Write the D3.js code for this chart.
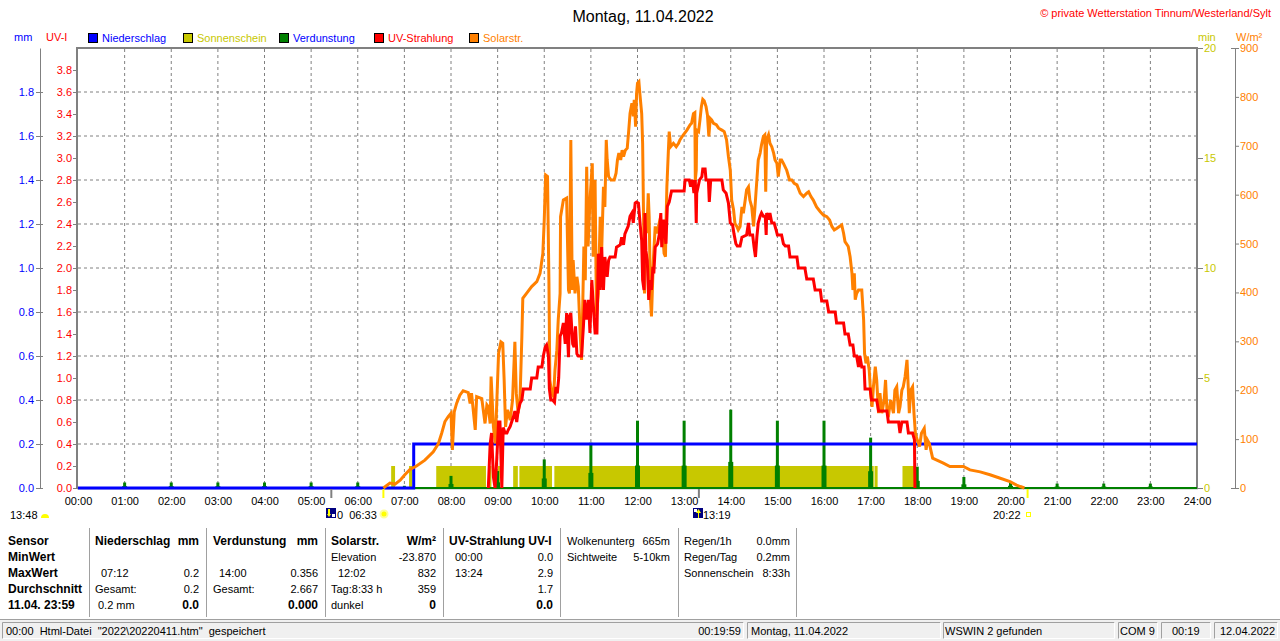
<!DOCTYPE html>
<html>
<head>
<meta charset="utf-8">
<script src="https://cdn.jsdelivr.net/npm/d3@7"></script>
<style>
body{margin:0;background:#fff;}
svg{display:block;font-family:"Liberation Sans",Arial,sans-serif;}
</style>
</head>
<body>
<script>

// ---- data ----

var hourTicks = d3.range(0, 25);
var uvTicks = d3.range(0, 20).map(function(i){ return i * 0.2; });
var mmTicks = d3.range(0, 10).map(function(i){ return i * 0.2; });
var minTicks = [0, 5, 10, 15, 20];
var wTicks = d3.range(0, 1000, 100);

// Niederschlag (Summe, mm)
var rainTimes = ["00:00", "07:12", "24:00"];
var rainMM = [0, 0.2, 0.2];

// Sonnenschein (min), Intervalle mit Sonne
var sunIntervals = [["06:43","06:48"],["07:06","07:10"],["07:41","08:45"],["08:49","08:52"],
  ["09:00","09:03"],["09:20","09:26"],["09:28","10:10"],["10:13","17:04"],["17:05","17:09"],["17:41","17:57"]];
var sunMin = 1;

// Verdunstung (mm) zur vollen Stunde
var evapHours = d3.range(1, 24);
var evapMM = [0.025,0.025,0.025,0.025,0.025,0.025,0.01,0.055,0.077,0.13,0.206,0.306,0.306,
  0.356,0.306,0.306,0.229,0.097,0.05,0.03,0.02,0.02,0.02];

// Solarstrahlung (W/m²) [Stunde, Wert]
var solar = [[6.55,0],[6.69,10],[6.80,8],[6.91,16],[7.01,27],[7.12,38],[7.26,45],[7.44,57],[7.62,74],
  [7.73,91],[7.80,112],[7.87,136],[7.94,146],[8.00,153],[8.03,78],[8.07,156],[8.12,173],[8.19,190],
  [8.26,199],[8.37,195],[8.41,173],[8.44,194],[8.52,119],[8.55,187],[8.66,183],[8.73,132],[8.77,170],
  [8.80,166],[8.84,132],[8.86,228],[8.91,125],[8.95,91],[9.02,275],[9.07,299],[9.11,296],[9.14,221],
  [9.17,125],[9.21,160],[9.27,139],[9.32,180],[9.37,299],[9.40,194],[9.44,153],[9.48,180],[9.52,310],
  [9.54,388],[9.62,398],[9.73,412],[9.84,422],[9.91,439],[9.97,480],[10.00,548],[10.03,640],[10.07,637],
  [10.10,425],[10.12,221],[10.16,194],[10.20,187],[10.23,241],[10.27,282],[10.30,344],[10.34,398],
  [10.35,555],[10.41,589],[10.48,593],[10.52,405],[10.54,398],[10.57,712],[10.60,405],[10.62,466],
  [10.66,398],[10.70,432],[10.73,412],[10.77,316],[10.80,262],[10.82,344],[10.85,494],[10.88,425],
  [10.91,657],[10.94,494],[10.97,562],[10.99,603],[11.03,664],[11.05,473],[11.09,630],[11.12,351],
  [11.16,398],[11.20,555],[11.23,480],[11.27,616],[11.30,575],[11.33,712],[11.35,671],[11.38,637],
  [11.43,630],[11.50,630],[11.54,644],[11.57,671],[11.60,685],[11.64,671],[11.67,691],[11.70,678],
  [11.74,691],[11.78,695],[11.81,729],[11.84,766],[11.88,787],[11.91,760],[11.93,794],[11.96,739],
  [11.98,807],[12.00,828],[12.03,831],[12.05,807],[12.09,766],[12.11,705],[12.13,555],[12.15,398],
  [12.18,555],[12.20,521],[12.23,603],[12.25,555],[12.28,385],[12.30,351],[12.34,466],[12.38,535],
  [12.41,521],[12.45,535],[12.48,548],[12.53,535],[12.57,480],[12.60,473],[12.61,535],[12.63,616],
  [12.66,685],[12.68,729],[12.71,698],[12.77,705],[12.83,698],[12.88,705],[12.91,712],[12.98,722],
  [13.06,732],[13.13,743],[13.16,746],[13.20,766],[13.23,768],[13.24,630],[13.26,650],[13.27,732],
  [13.31,729],[13.34,753],[13.37,780],[13.40,795],[13.43,792],[13.47,780],[13.50,763],[13.53,719],
  [13.56,756],[13.59,753],[13.63,746],[13.69,743],[13.74,736],[13.81,732],[13.86,729],[13.91,712],
  [13.95,678],[13.99,650],[14.02,589],[14.06,569],[14.09,541],[14.13,535],[14.16,528],[14.20,535],
  [14.24,575],[14.27,562],[14.31,589],[14.34,610],[14.38,616],[14.41,589],[14.45,575],[14.49,535],
  [14.52,575],[14.56,630],[14.59,671],[14.63,685],[14.66,702],[14.70,719],[14.73,722],[14.75,606],
  [14.77,712],[14.81,722],[14.84,705],[14.88,698],[14.92,685],[14.95,671],[14.99,664],[15.02,637],
  [15.06,671],[15.09,671],[15.13,664],[15.20,650],[15.26,630],[15.31,630],[15.36,623],[15.42,620],
  [15.49,603],[15.56,596],[15.63,603],[15.67,606],[15.72,596],[15.77,589],[15.84,575],[15.92,565],
  [15.99,558],[16.06,555],[16.12,548],[16.17,535],[16.22,528],[16.27,531],[16.33,535],[16.38,538],
  [16.42,521],[16.45,504],[16.52,494],[16.56,473],[16.60,439],[16.62,405],[16.65,439],[16.67,385],
  [16.70,398],[16.74,405],[16.81,405],[16.85,344],[16.87,275],[16.90,255],[16.93,269],[16.97,241],
  [17.00,194],[17.03,166],[17.06,207],[17.10,248],[17.13,221],[17.17,153],[17.20,194],[17.24,153],
  [17.29,180],[17.32,221],[17.35,160],[17.39,153],[17.43,180],[17.49,153],[17.52,200],[17.56,207],
  [17.60,153],[17.63,166],[17.67,200],[17.70,207],[17.74,228],[17.78,262],[17.80,221],[17.83,153],
  [17.86,200],[17.90,207],[17.93,153],[17.96,112],[18.00,98],[18.05,85],[18.09,112],[18.15,122],
  [18.19,78],[18.22,98],[18.26,91],[18.29,78],[18.33,61],[18.42,57],[18.56,51],[18.70,44],[18.85,44],
  [18.99,44],[19.13,37],[19.35,33],[19.56,27],[19.78,20],[19.99,13],[20.13,6],[20.21,3],[20.30,0]];

// UV-Strahlung (UV-I) [Stunde, Wert]
var uv = [[8.80,0],[8.84,0.4],[8.87,0.5],[8.91,0.1],[8.945,0],[8.98,0.25],[9.02,0.6],[9.05,0.6],[9.09,0],
  [9.12,0.55],[9.16,0.5],[9.20,0.5],[9.23,0.53],[9.27,0.56],[9.30,0.6],[9.34,0.65],[9.37,0.7],[9.41,0.6],
  [9.44,0.7],[9.48,0.77],[9.52,0.8],[9.55,0.9],[9.70,0.9],[9.73,1.0],[9.84,1.0],[9.87,1.1],[9.95,1.1],
  [9.98,1.2],[10.02,1.28],[10.05,1.3],[10.09,1.2],[10.11,0.9],[10.14,0.8],[10.18,0.8],[10.22,0.78],
  [10.25,0.92],[10.28,0.86],[10.31,1.0],[10.34,1.38],[10.37,1.41],[10.41,1.5],[10.45,1.31],[10.48,1.59],
  [10.52,1.19],[10.54,1.56],[10.57,1.59],[10.61,1.31],[10.64,1.28],[10.67,1.47],[10.70,1.22],[10.73,1.2],
  [10.80,1.2],[10.84,1.47],[10.87,1.71],[10.91,1.53],[10.95,1.71],[10.98,1.41],[11.02,1.89],[11.05,1.68],
  [11.09,1.41],[11.13,1.41],[11.16,2.13],[11.20,1.8],[11.23,2.19],[11.27,1.8],[11.30,2.1],[11.35,1.92],
  [11.38,2.07],[11.41,2.1],[11.52,2.1],[11.55,2.19],[11.63,2.21],[11.66,2.28],[11.70,2.21],[11.73,2.31],
  [11.80,2.38],[11.84,2.47],[11.88,2.5],[11.91,2.41],[11.95,2.59],[11.98,2.6],[12.02,2.59],[12.06,2.38],
  [12.09,2.25],[12.11,1.89],[12.14,1.8],[12.16,2.5],[12.18,2.16],[12.21,2.07],[12.24,1.71],[12.27,1.89],
  [12.30,1.8],[12.33,2.01],[12.35,1.95],[12.38,2.19],[12.43,2.22],[12.47,2.31],[12.50,2.5],[12.52,2.19],
  [12.56,2.44],[12.59,2.31],[12.61,2.22],[12.64,2.56],[12.68,2.6],[12.73,2.7],[13.00,2.7],[13.02,2.8],
  [13.11,2.8],[13.14,2.74],[13.18,2.8],[13.21,2.68],[13.24,2.8],[13.26,2.41],[13.27,2.68],[13.30,2.74],
  [13.33,2.8],[13.38,2.83],[13.40,2.9],[13.45,2.9],[13.47,2.8],[13.52,2.8],[13.54,2.6],[13.57,2.8],
  [13.81,2.8],[13.84,2.71],[13.90,2.68],[13.95,2.59],[13.99,2.41],[14.04,2.39],[14.07,2.31],[14.11,2.22],
  [14.14,2.2],[14.20,2.2],[14.24,2.28],[14.34,2.3],[14.38,2.41],[14.41,2.3],[14.47,2.3],[14.50,2.19],
  [14.53,2.1],[14.56,2.28],[14.59,2.41],[14.63,2.47],[14.66,2.5],[14.70,2.47],[14.74,2.47],[14.76,2.3],
  [14.77,2.5],[14.81,2.44],[14.84,2.5],[14.88,2.41],[14.93,2.41],[14.97,2.35],[15.00,2.3],[15.09,2.3],
  [15.13,2.22],[15.17,2.2],[15.24,2.2],[15.27,2.1],[15.42,2.1],[15.45,2.0],[15.59,2.0],[15.63,1.9],
  [15.77,1.9],[15.81,1.8],[15.92,1.8],[15.95,1.7],[16.06,1.7],[16.10,1.6],[16.24,1.6],[16.27,1.5],
  [16.42,1.5],[16.45,1.4],[16.52,1.4],[16.56,1.3],[16.62,1.3],[16.65,1.2],[16.70,1.2],[16.74,1.1],
  [16.77,1.2],[16.81,1.1],[16.86,1.1],[16.88,0.9],[16.99,0.9],[17.02,0.8],[17.13,0.8],[17.17,0.7],
  [17.35,0.7],[17.38,0.6],[17.60,0.6],[17.63,0.5],[17.67,0.6],[17.78,0.6],[17.81,0.5],[17.90,0.5],
  [17.94,0.44],[17.95,0]];

// Auf-/Untergang Markierungen unter der Zeitachse
var sunRise = "06:33", sunSet = "20:22";
var moonTicks = ["05:26", "13:19"];

var legend = [
  {name:"Niederschlag", fill:"#0000ff", text:"#0000ff"},
  {name:"Sonnenschein", fill:"#c8c800", text:"#c8c800"},
  {name:"Verdunstung", fill:"#008000", text:"#0000ff"},
  {name:"UV-Strahlung", fill:"#ff0000", text:"#ff0000"},
  {name:"Solarstr.", fill:"#ff8000", text:"#ff8000"}
];

function hm(s){ var p = s.split(":"); return +p[0] + (+p[1]) / 60; }

// ---- drawing ----

var svg = d3.select("body").append("svg").attr("width", 1280).attr("height", 641)
            .style("font-size", "11px");

var x = d3.scaleLinear().domain([0, 24]).range([78, 1197]);
var yUV = d3.scaleLinear().domain([0, 4]).range([488, 48]);
var yMM = d3.scaleLinear().domain([0, 2]).range([488, 48]);
var yMin = d3.scaleLinear().domain([0, 20]).range([488, 48]);
var yW = d3.scaleLinear().domain([0, 900]).range([488, 48]);

function txt(px, py, s, col, opt){
  opt = opt || {};
  return svg.append("text").attr("x", px).attr("y", py).text(s)
     .attr("fill", col || "#000")
     .attr("text-anchor", opt.anchor || "start")
     .style("font-size", (opt.size || 11) + "px")
     .style("font-weight", opt.bold ? "bold" : "normal")
     .style("white-space", "pre");
}

// title
txt(643, 22, "Montag, 11.04.2022", "#000", {anchor:"middle", size:16});
txt(1271, 17, "\u00a9 private Wetterstation Tinnum/Westerland/Sylt", "#ff0000", {anchor:"end"});

// units
txt(14, 41, "mm", "#0000ff");
txt(46, 41, "UV-I", "#ff0000");
txt(1198, 41, "min", "#c8c800");
txt(1236, 41, "W/m\u00b2", "#ff8000");

// legend
var lg = svg.append("g");
var lgX = [88, 183, 279, 374, 469];
legend.forEach(function(d, i){
  lg.append("rect").attr("x", lgX[i] + 0.5).attr("y", 33.5).attr("width", 9).attr("height", 9)
    .attr("fill", d.fill).attr("stroke", "#000");
  lg.append("text").attr("x", lgX[i] + 14).attr("y", 42).attr("fill", d.text).text(d.name);
});

// grid
var grid = svg.append("g").attr("stroke", "#808080").attr("stroke-dasharray", "3,3");
grid.selectAll(".gv").data(hourTicks.slice(1, 24)).enter().append("line")
    .attr("x1", function(d){ return x(d); }).attr("x2", function(d){ return x(d); })
    .attr("y1", 49).attr("y2", 488);
grid.selectAll(".gh").data(uvTicks.filter(function(d, i){ return i > 0 && i % 2 == 0; })).enter().append("line")
    .attr("x1", 78).attr("x2", 1197)
    .attr("y1", function(d){ return yUV(d); }).attr("y2", function(d){ return yUV(d); });

// frame
svg.append("path").attr("d", "M77,489V48H1197V489").attr("fill", "none")
   .attr("stroke", "#808080").attr("stroke-width", 2);
svg.append("line").attr("x1", 77).attr("x2", 1198).attr("y1", 488.5).attr("y2", 488.5)
   .attr("stroke", "#808080").attr("stroke-width", 1.5);

// axes
function styleAxis(g, col){
  g.attr("font-family", null).attr("font-size", null);
  g.selectAll("line").attr("stroke", "#808080");
  g.select(".domain").attr("stroke", "#808080");
  g.selectAll("text").attr("fill", col).style("font-size", "11px");
}

var uvAxis = svg.append("g").attr("transform", "translate(77,0)")
   .call(d3.axisLeft(yUV).tickValues(uvTicks).tickSize(4).tickPadding(1).tickFormat(d3.format(".1f")));
uvAxis.select(".domain").remove();
styleAxis(uvAxis, "#ff0000");

var mmAxis = svg.append("g").attr("transform", "translate(40,0)")
   .call(d3.axisLeft(yMM).tickValues(mmTicks).tickSize(4).tickSizeOuter(0).tickPadding(2).tickFormat(d3.format(".1f")));
mmAxis.selectAll(".tick line").attr("x1", 3);
styleAxis(mmAxis, "#0000ff");

var minAxis = svg.append("g").attr("transform", "translate(1198,0)")
   .call(d3.axisRight(yMin).tickValues(minTicks).tickSize(5).tickPadding(1));
minAxis.select(".domain").remove();
styleAxis(minAxis, "#c8c800");

var wAxis = svg.append("g").attr("transform", "translate(1235,0)")
   .call(d3.axisRight(yW).tickValues(wTicks).tickSize(4).tickSizeOuter(0).tickPadding(1));
wAxis.selectAll(".tick line").attr("x1", function(d){ return (d == 0 || d == 900) ? -4 : 0; });
styleAxis(wAxis, "#ff8000");

var tAxis = svg.append("g").attr("transform", "translate(0,488)")
   .call(d3.axisBottom(x).tickValues(hourTicks).tickSize(0).tickPadding(9)
   .tickFormat(function(d){ return (d < 10 ? "0" : "") + d + ":00"; }));
tAxis.select(".domain").remove();
styleAxis(tAxis, "#000");

// sunshine bars
svg.append("g").selectAll("rect").data(sunIntervals).enter().append("rect")
   .attr("x", function(d){ return x(hm(d[0])); })
   .attr("width", function(d){ return x(hm(d[1])) - x(hm(d[0])); })
   .attr("y", yMin(sunMin)).attr("height", yMin(0) - yMin(sunMin))
   .attr("fill", "#c8c800");

// evaporation
svg.append("line").attr("x1", x(0)).attr("x2", x(24)).attr("y1", yMM(0)).attr("y2", yMM(0))
   .attr("stroke", "#008000").attr("stroke-width", 2);
svg.append("g").selectAll("rect").data(evapHours).enter().append("rect")
   .attr("x", function(d){ return x(d) - 1.5; }).attr("width", 3)
   .attr("y", function(d, i){ return yMM(evapMM[i]); })
   .attr("height", function(d, i){ return yMM(0) - yMM(evapMM[i]); })
   .attr("fill", "#008000");
svg.append("g").selectAll("rect").data(evapHours).enter().append("rect")
   .attr("x", function(d){ return x(d) - 2.5; }).attr("width", 5)
   .attr("y", function(d, i){ return yMM(evapMM[i] / 3); })
   .attr("height", function(d, i){ return yMM(0) - yMM(evapMM[i] / 3); })
   .attr("fill", "#008000");

// rain (cumulative)
var rainLine = d3.line().curve(d3.curveStepAfter)
   .x(function(d, i){ return x(hm(rainTimes[i])); })
   .y(function(d){ return yMM(d); });
svg.append("path").datum(rainMM).attr("d", rainLine).attr("fill", "none")
   .attr("stroke", "#0000ff").attr("stroke-width", 3);

// solar
var solarLine = d3.line().x(function(d){ return x(d[0]); }).y(function(d){ return yW(d[1]); });
svg.append("path").datum(solar).attr("d", solarLine).attr("fill", "none")
   .attr("stroke", "#ff8000").attr("stroke-width", 3).attr("stroke-linejoin", "miter");

// uv
var uvLine = d3.line().x(function(d){ return x(d[0]); }).y(function(d){ return yUV(d[1]); });
svg.append("path").datum(uv).attr("d", uvLine).attr("fill", "none")
   .attr("stroke", "#ff0000").attr("stroke-width", 3);

// rise / set ticks
moonTicks.forEach(function(t){
  svg.append("line").attr("x1", x(hm(t))).attr("x2", x(hm(t))).attr("y1", 489).attr("y2", 498)
     .attr("stroke", "#808080").attr("stroke-width", 2);
});
[sunRise, sunSet].forEach(function(t){
  svg.append("line").attr("x1", x(hm(t))).attr("x2", x(hm(t))).attr("y1", 489).attr("y2", 498)
     .attr("stroke", "#ffff00").attr("stroke-width", 2);
});

// markers row
txt(10, 519, "13:48", "#000");
svg.append("path").attr("d", "M41,518A4,4 0 0 1 49,518Z").attr("fill", "#ffff00");
svg.append("rect").attr("x", 326).attr("y", 508).attr("width", 10).attr("height", 10).attr("fill", "#000080");
svg.append("path").attr("d", "M328,509V514H327L329,517L331,514H330V509Z").attr("fill", "#ffff00");
svg.append("rect").attr("x", 332).attr("y", 514).attr("width", 3).attr("height", 3).attr("fill", "#fff");
txt(337, 519, "0  " + sunRise, "#000");
svg.append("circle").attr("cx", 384).attr("cy", 514).attr("r", 3.5).attr("fill", "#ffff00")
   .attr("stroke", "#ffff99").attr("stroke-width", 2);
svg.append("rect").attr("x", 693).attr("y", 508).attr("width", 10).attr("height", 10).attr("fill", "#000080");
svg.append("path").attr("d", "M698,518V513H696L698.5,509L701,513H699V518Z").attr("fill", "#ffff00");
svg.append("rect").attr("x", 694).attr("y", 509).attr("width", 3).attr("height", 3).attr("fill", "#fff");
txt(703, 519, "13:19", "#000");
txt(993, 519, sunSet, "#000");
svg.append("rect").attr("x", 1026.5).attr("y", 512.5).attr("width", 4).attr("height", 4)
   .attr("fill", "none").attr("stroke", "#ffff00");

// statistics table
var rowY = [545, 561, 577, 593, 609];
var sepX = [89, 206, 325, 443, 560, 678, 796];
sepX.forEach(function(sx){
  svg.append("line").attr("x1", sx + 0.5).attr("x2", sx + 0.5).attr("y1", 528).attr("y2", 617)
     .attr("stroke", "#a0a0a0");
});

var B = {bold:true, size:12};
var R = {anchor:"end"};
var RB = {anchor:"end", bold:true, size:12};
["Sensor", "MinWert", "MaxWert", "Durchschnitt", "11.04. 23:59"].forEach(function(s, i){
  txt(8, rowY[i], s, "#000", B);
});
txt(95, rowY[0], "Niederschlag", "#000", B); txt(199, rowY[0], "mm", "#000", RB);
txt(101, rowY[2], "07:12"); txt(199, rowY[2], "0.2", "#000", R);
txt(95, rowY[3], "Gesamt:"); txt(199, rowY[3], "0.2", "#000", R);
txt(98, rowY[4], "0.2 mm"); txt(199, rowY[4], "0.0", "#000", RB);

txt(213, rowY[0], "Verdunstung", "#000", B); txt(318, rowY[0], "mm", "#000", RB);
txt(219, rowY[2], "14:00"); txt(318, rowY[2], "0.356", "#000", R);
txt(213, rowY[3], "Gesamt:"); txt(318, rowY[3], "2.667", "#000", R);
txt(318, rowY[4], "0.000", "#000", RB);

txt(331, rowY[0], "Solarstr.", "#000", B); txt(436, rowY[0], "W/m\u00b2", "#000", RB);
txt(331, rowY[1], "Elevation"); txt(436, rowY[1], "-23.870", "#000", R);
txt(338, rowY[2], "12:02"); txt(436, rowY[2], "832", "#000", R);
txt(331, rowY[3], "Tag:8:33 h"); txt(436, rowY[3], "359", "#000", R);
txt(331, rowY[4], "dunkel"); txt(436, rowY[4], "0", "#000", RB);

txt(449, rowY[0], "UV-Strahlung UV-I", "#000", B);
txt(455, rowY[1], "00:00"); txt(553, rowY[1], "0.0", "#000", R);
txt(455, rowY[2], "13:24"); txt(553, rowY[2], "2.9", "#000", R);
txt(553, rowY[3], "1.7", "#000", R);
txt(553, rowY[4], "0.0", "#000", RB);

txt(567, rowY[0], "Wolkenunterg"); txt(670, rowY[0], "665m", "#000", R);
txt(567, rowY[1], "Sichtweite"); txt(670, rowY[1], "5-10km", "#000", R);

txt(684, rowY[0], "Regen/1h"); txt(790, rowY[0], "0.0mm", "#000", R);
txt(684, rowY[1], "Regen/Tag"); txt(790, rowY[1], "0.2mm", "#000", R);
txt(684, rowY[2], "Sonnenschein"); txt(790, rowY[2], "8:33h", "#000", R);

// status bar
svg.append("rect").attr("x", 0).attr("y", 619).attr("width", 1280).attr("height", 22).attr("fill", "#f0f0f0");
svg.append("line").attr("x1", 0).attr("x2", 1280).attr("y1", 619.5).attr("y2", 619.5).attr("stroke", "#a0a0a0");
var panels = [[2, 744], [747, 941], [943, 1115], [1118, 1158], [1161, 1211], [1214, 1278]];
panels.forEach(function(p){
  svg.append("path").attr("d", "M" + (p[0] + 0.5) + ",639V622.5H" + (p[1] - 0.5))
     .attr("fill", "none").attr("stroke", "#a0a0a0");
  svg.append("path").attr("d", "M" + (p[0] + 0.5) + ",638.5H" + (p[1] - 0.5) + "V622.5")
     .attr("fill", "none").attr("stroke", "#ffffff");
});
txt(6, 635, "00:00  Html-Datei  \"2022\\20220411.htm\"  gespeichert");
txt(741, 635, "00:19:59", "#000", R);
txt(751, 635, "Montag, 11.04.2022");
txt(945, 635, "WSWIN 2 gefunden");
txt(1120, 635, "COM 9");
txt(1172, 635, "00:19");
txt(1220, 635, "12.04.2022");

</script>
</body>
</html>
